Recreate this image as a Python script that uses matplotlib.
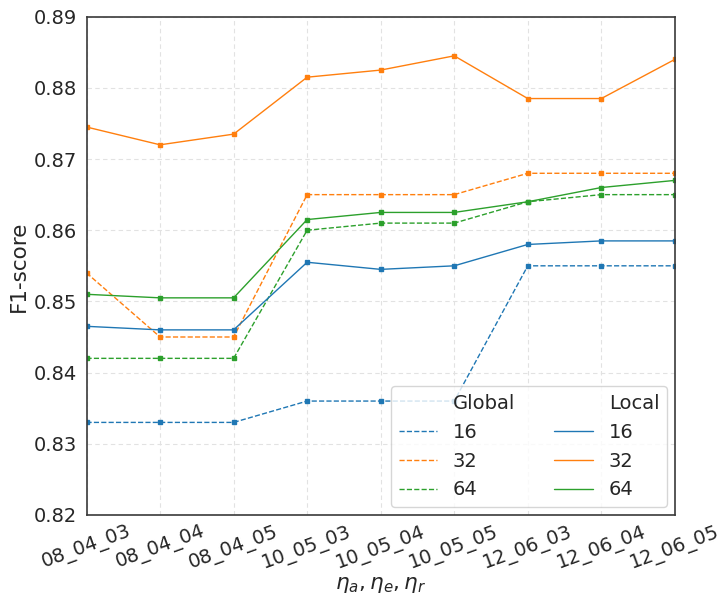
import matplotlib
matplotlib.use("Agg")
import matplotlib.pyplot as plt
import seaborn as sns
from matplotlib.lines import Line2D

sns.set_style("whitegrid", {"grid.linestyle": (0, (4, 3)), "grid.color": "#e2e2e2"})
plt.rcParams['font.family'] = ['DejaVu Sans']

configs = ["08_04_03", "08_04_04", "08_04_05", "10_05_03", "10_05_04",
           "10_05_05", "12_06_03", "12_06_04", "12_06_05"]
sizes = ["16", "32", "64"]

global_16 = [0.833, 0.833, 0.833, 0.836, 0.836, 0.836, 0.855, 0.855, 0.855]
global_32 = [0.854, 0.845, 0.845, 0.865, 0.865, 0.865, 0.868, 0.868, 0.868]
global_64 = [0.842, 0.842, 0.842, 0.860, 0.861, 0.861, 0.864, 0.865, 0.865]

local_16 = [0.8465, 0.846, 0.846, 0.8555, 0.8545, 0.855, 0.858, 0.8585, 0.8585]
local_32 = [0.8745, 0.872, 0.8735, 0.8815, 0.8825, 0.8845, 0.8785, 0.8785, 0.884]
local_64 = [0.851, 0.8505, 0.8505, 0.8615, 0.8625, 0.8625, 0.864, 0.866, 0.867]

colors = sns.color_palette("tab10")[:3]

fig, ax = plt.subplots(figsize=(7.21, 5.96), dpi=100)
x = list(range(len(configs)))

for vals, c in zip([global_16, global_32, global_64], colors):
    ax.plot(x, vals, linestyle="--", color=c, lw=1, marker="s", ms=3)
for vals, c in zip([local_16, local_32, local_64], colors):
    ax.plot(x, vals, linestyle="-", color=c, lw=1, marker="s", ms=3)

ax.set_xlim(0, len(configs) - 1)
ax.set_ylim(0.82, 0.89)
ax.set_xticks(x)
ax.set_xticklabels(configs, rotation=20, ha="center", fontsize=14)
ax.tick_params(axis="x", pad=2)
ax.tick_params(axis="y", labelsize=14)
ax.set_ylabel("F1-score", fontsize=15.5, labelpad=3)
ax.set_xlabel(r"$\eta_a, \eta_e, \eta_r$", fontsize=15.5, labelpad=2)
for s in ax.spines.values():
    s.set_color("#3a3a3a")
    s.set_linewidth(1.2)

# legend with Global / Local header rows
blank = Line2D([], [], linestyle="none")
handles = [blank] + [Line2D([], [], color=c, ls="--", lw=1) for c in colors] \
    + [blank] + [Line2D([], [], color=c, ls="-", lw=1) for c in colors]
labels = ["Global"] + sizes + ["Local"] + sizes
ax.legend(handles, labels, ncol=2, loc="lower right", fontsize=14,
          framealpha=0.8, columnspacing=2.0, borderaxespad=0.4,
          labelspacing=0.5)

fig.subplots_adjust(left=0.12, right=0.936, top=0.972, bottom=0.136)
fig.savefig("out.png")
